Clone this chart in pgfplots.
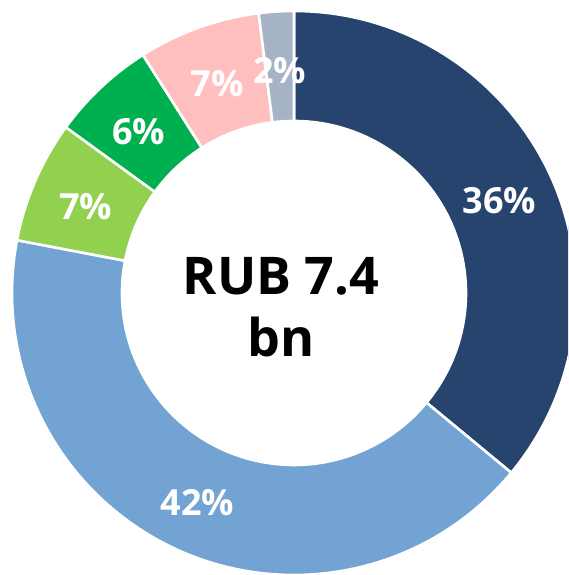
\documentclass[border=0pt]{standalone}
\usepackage{pgfplots}
\pgfplotsset{compat=1.18}
\usepackage{pgfplotstable}
\usepackage{fontspec}
\setmainfont{Open Sans}

\definecolor{cnavy}{RGB}{38,68,110}
\definecolor{cblue}{RGB}{115,163,210}
\definecolor{clgreen}{RGB}{146,208,80}
\definecolor{cgreen}{RGB}{0,176,80}
\definecolor{cpink}{RGB}{255,191,191}
\definecolor{cgrey}{RGB}{166,178,198}

\pgfplotstableread{
share color
36 cnavy
42 cblue
7  clgreen
6  cgreen
7  cpink
2  cgrey
}\donut

\begin{document}
\begin{tikzpicture}
\begin{axis}[name=ax, hide axis, scale only axis, width=568pt, height=575pt,
  xmin=0, xmax=568, ymin=0, ymax=575, clip=true]
\pgfplotstablegetrowsof{\donut}
\pgfmathtruncatemacro\N{\pgfplotsretval-1}
\def\cx{294}\def\cy{282}\def\Ro{282}\def\Ri{172}\def\Rm{227}
\def\cum{0}
\pgfplotsforeachungrouped \i in {0,...,\N}{%
  \pgfplotstablegetelem{\i}{share}\of\donut \let\v\pgfplotsretval
  \pgfplotstablegetelem{\i}{color}\of\donut \let\c\pgfplotsretval
  \pgfmathsetmacro\a{90-3.6*\cum}%
  \pgfmathsetmacro\b{90-3.6*(\cum+\v)}%
  \pgfmathsetmacro\xa{\cx+\Ro*cos(\a)}%
  \pgfmathsetmacro\ya{\cy+\Ro*sin(\a)}%
  \pgfmathsetmacro\xb{\cx+\Ri*cos(\b)}%
  \pgfmathsetmacro\yb{\cy+\Ri*sin(\b)}%
  \edef\cmd{\noexpand\fill[\c, draw=white, line width=2.6pt, line join=miter]
    (axis cs:\xa,\ya) arc[start angle=\a, end angle=\b, radius=\Ro pt]
    -- (axis cs:\xb,\yb) arc[start angle=\b, end angle=\a, radius=\Ri pt] -- cycle;}%
  \cmd
  \pgfmathsetmacro\cum{\cum+\v}%
}
\def\cum{0}
\pgfplotsforeachungrouped \i in {0,...,\N}{%
  \pgfplotstablegetelem{\i}{share}\of\donut \let\v\pgfplotsretval
  \pgfmathsetmacro\m{90-3.6*(\cum+\v/2)}%
  \pgfmathsetmacro\xm{\cx+\Rm*cos(\m)}%
  \pgfmathsetmacro\ym{\cy+\Rm*sin(\m)-4}%
  \edef\cmd{\noexpand\node[text=white, font=\noexpand\bfseries\noexpand\fontsize{36}{36}\noexpand\selectfont]
    at (axis cs:\xm,\ym) {\v\noexpand\%};}%
  \cmd
  \pgfmathsetmacro\cum{\cum+\v}%
}
\node[align=center, font=\bfseries\fontsize{52}{62}\selectfont] at (axis cs:281,268) {RUB 7.4\\bn};
\end{axis}
\pgfresetboundingbox
\path[use as bounding box] (ax.south west) rectangle (ax.north east);
\end{tikzpicture}
\end{document}
